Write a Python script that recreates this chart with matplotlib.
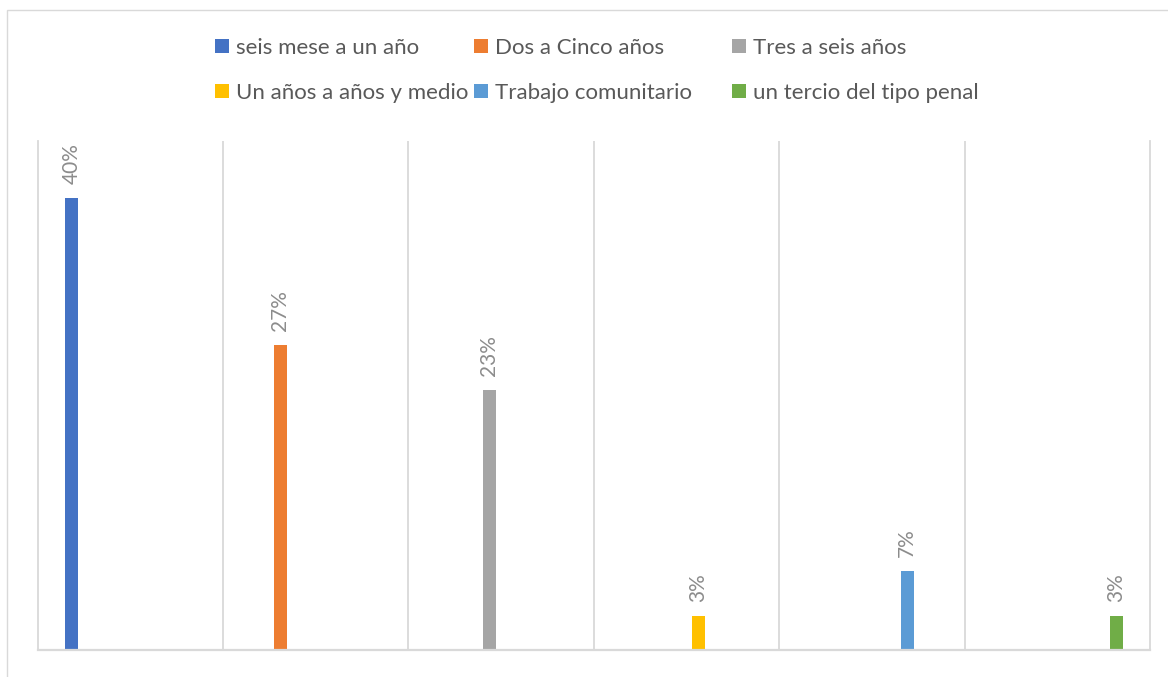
import numpy as np
import matplotlib.pyplot as plt
from matplotlib.patches import Rectangle

plt.rcParams["font.family"] = ["Lato", "DejaVu Sans"]

# data
labels = ["seis mese a un año", "Dos a Cinco años", "Tres a seis años",
          "Un años a años y medio", "Trabajo comunitario", "un tercio del tipo penal"]
values = [0.40, 0.27, 0.23, 0.03, 0.07, 0.03]
value_text = ["40%", "27%", "23%", "3%", "7%", "3%"]
colors = ["#4472C4", "#ED7D31", "#A5A5A5", "#FFC000", "#5B9BD5", "#70AD47"]

grid_col = "#d9d9d9"

fig = plt.figure(figsize=(11.68, 6.77), dpi=100)
ax = fig.add_axes([37.5/1168, 1 - 650/677, (1150 - 37.5)/1168, (650 - 141)/677])

# outer chart border (only top and left fall inside the picture)
fig.patches.append(Rectangle((7/1168, -0.2), 1.2, 1.2 - 10/677,
                             transform=fig.transFigure, fill=False,
                             edgecolor=grid_col, linewidth=1.0))

# one bar per series, spread across the category band
n = len(values)
bar_x = 0.183 + 1.127 * np.arange(n)
bars = []
for i in range(n):
    b = ax.bar(bar_x[i], values[i], width=0.07, color=colors[i], label=labels[i])
    bars.append(b)
    ax.annotate(value_text[i], (bar_x[i], values[i]), xytext=(0, 10),
                textcoords="offset points", rotation=90, ha="center", va="bottom",
                fontsize=15, color="#8c8c8c")

ax.set_xlim(0, 6)
ax.set_ylim(0, 0.45)
ax.set_xticks(np.arange(1, 6))
ax.set_yticks([])
ax.tick_params(axis="x", length=0, labelbottom=False)
ax.grid(True, axis="x", color=grid_col, linewidth=1.3)
ax.set_axisbelow(True)
ax.spines["top"].set_visible(False)
for s in ("left", "right"):
    ax.spines[s].set_color(grid_col)
    ax.spines[s].set_linewidth(1.3)
ax.spines["bottom"].set_color(grid_col)
ax.spines["bottom"].set_linewidth(1.6)

# legend laid out like Excel: three equal columns, two rows
col_x = [215, 474, 732]
row_y = [48, 93]
for i in range(n):
    cx = col_x[i % 3] / 1168
    cy = 1 - row_y[i // 3] / 677
    fig.legend([bars[i]], [labels[i]], loc="center left", bbox_to_anchor=(cx, cy),
               frameon=False, fontsize=16, borderpad=0, borderaxespad=0,
               handlelength=0.63, handleheight=0.6, handletextpad=0.32,
               labelcolor="#595959")

plt.savefig("out.png", dpi=100)
